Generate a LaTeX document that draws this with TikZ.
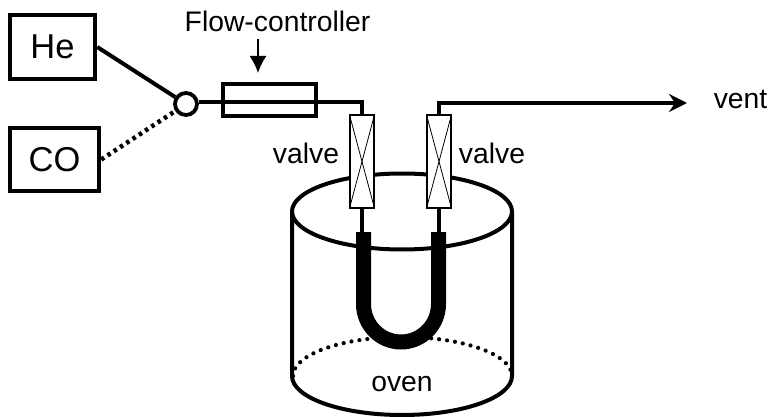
\documentclass[tikz,border=0pt]{standalone}
\usepackage{fontspec}
\setmainfont{Liberation Sans}
\usetikzlibrary{arrows.meta}
\tikzstyle{source}=[draw, line width=4.5pt, font=\fontsize{34.5}{35}\selectfont]
\tikzstyle{label}=[font=\fontsize{28.3}{29}\selectfont, inner sep=0pt]
\tikzstyle{valve}=[draw, fill=white, line width=1.2pt, minimum width=24pt, minimum height=93pt, inner sep=0pt]
\tikzstyle{pipe}=[line width=3.6pt]
\begin{document}
\begin{tikzpicture}[x=1pt, y=-1pt]
    \useasboundingbox (0, 0) rectangle (771, 417);
    % oven
    \draw[line width=4.2pt, dash pattern=on 0pt off 8pt, line cap=round] (293, 376) arc[start angle=180, end angle=0, x radius=109.5pt, y radius=39pt];
    \draw[line width=4pt] (402, 211.5) ellipse[x radius=110pt, y radius=38pt];
    \draw[line width=4pt] (292, 211.5) -- (292, 376) arc[start angle=180, end angle=360, x radius=110pt, y radius=39pt] -- (512, 211.5);
    \node[label] (oven) at (402, 384) {oven};
    % gas supply
    \node[source, minimum width=85pt, minimum height=64pt] (he) at (52.5, 47) {He};
    \node[source, minimum width=89pt, minimum height=63pt] (co) at (54.5, 159.5) {CO};
    \node[circle, draw, line width=3.8pt, minimum size=22pt, inner sep=0pt] (switch) at (186, 104) {};
    \draw[line width=4pt] (he.east) -- (switch);
    \draw[line width=4.5pt, dash pattern=on 3.5pt off 4pt] (co.east) -- (switch);
    % valves
    \node[valve] (valvea) at (362, 161.5) {};
    \node[valve] (valveb) at (439, 161.5) {};
    \foreach \v in {valvea, valveb} {
        \draw[line width=0.8pt] (\v.north west) -- (\v.south east);
        \draw[line width=0.8pt] (\v.north east) -- (\v.south west);
    }
    % u-tube
    \coordinate (tubea) at (362, 232);
    \coordinate (tubeb) at (439, 232);
    \draw[pipe] (valvea.south) -- (tubea);
    \draw[pipe] (valveb.south) -- (tubeb);
    \draw[line width=15pt] (363.5, 232) -- (363.5, 304) arc[start angle=180, end angle=360, x radius=37.5pt, y radius=38pt] -- (438.5, 232);
    % flow line
    \node[draw, line width=3.6pt, minimum width=93pt, minimum height=32pt, inner sep=0pt] (flow) at (269.5, 100) {};
    \coordinate (benda) at (362, 102);
    \coordinate (bendb) at (439, 103);
    \coordinate (vent) at (687, 103);
    \draw[pipe] (switch.east) ++(0, -2) -- (benda) -- (valvea.north);
    \draw[pipe, -{Stealth[length=18pt, width=18pt, inset=6pt]}] (valveb.north) -- (bendb) -- (vent);
    \node[label] (flowlabel) at (277.5, 21) {Flow-controller};
    \coordinate (flowtip) at (258, 73);
    \draw[line width=1.8pt, -{Latex[length=17pt, width=17pt]}] (258, 39) -- (flowtip);
    \node[label] (labela) at (306, 153) {valve};
    \node[label] (labelb) at (492, 153) {valve};
    \node[label] (ventlabel) at (740.5, 99) {vent};
\end{tikzpicture}
\end{document}
